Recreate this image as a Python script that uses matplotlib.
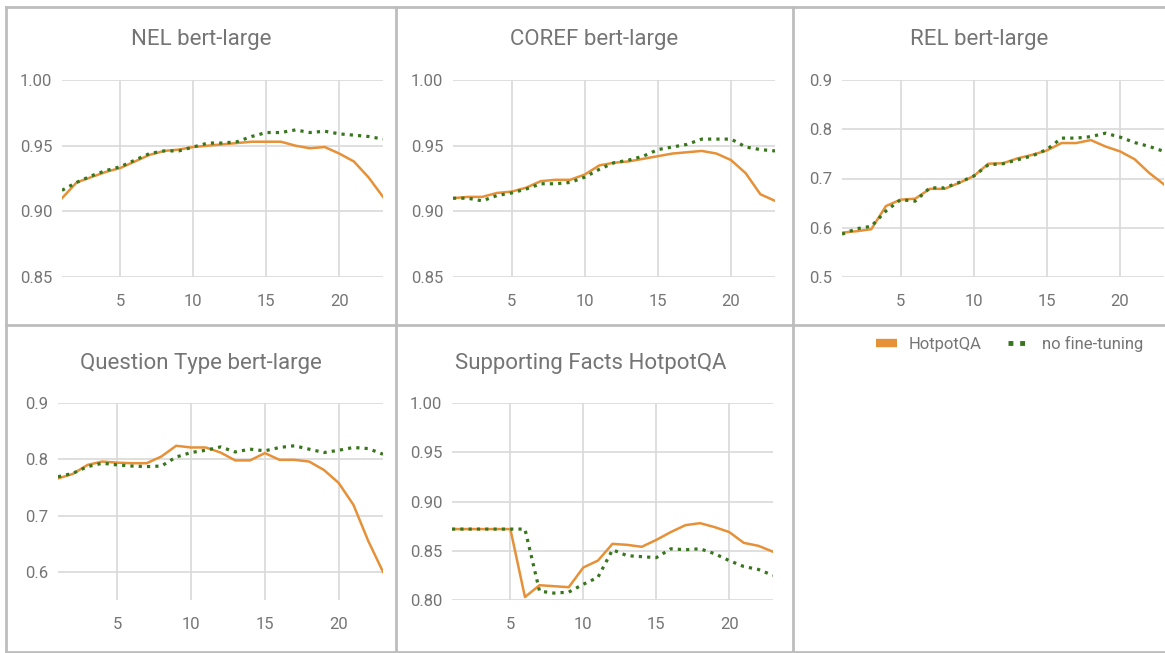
import matplotlib.pyplot as plt
from matplotlib.lines import Line2D

plt.rcParams['font.family'] = ['Roboto', 'DejaVu Sans']

layers = list(range(1, 24))

nel_hotpot = [0.910, 0.922, 0.926, 0.930, 0.933, 0.938, 0.943, 0.946, 0.947, 0.949, 0.950, 0.951,
              0.952, 0.953, 0.953, 0.953, 0.950, 0.948, 0.949, 0.944, 0.938, 0.926, 0.911]
nel_base = [0.916, 0.922, 0.927, 0.931, 0.934, 0.939, 0.944, 0.946, 0.946, 0.949, 0.952, 0.952,
            0.953, 0.957, 0.960, 0.960, 0.962, 0.960, 0.961, 0.959, 0.958, 0.957, 0.955]

coref_hotpot = [0.910, 0.911, 0.911, 0.914, 0.915, 0.918, 0.923, 0.924, 0.924, 0.928, 0.935, 0.937,
                0.938, 0.940, 0.942, 0.944, 0.945, 0.946, 0.944, 0.939, 0.929, 0.913, 0.908]
coref_base = [0.910, 0.910, 0.908, 0.912, 0.914, 0.917, 0.921, 0.921, 0.922, 0.926, 0.932, 0.937,
              0.939, 0.942, 0.947, 0.949, 0.951, 0.955, 0.955, 0.955, 0.949, 0.947, 0.946]

rel_hotpot = [0.590, 0.593, 0.597, 0.644, 0.657, 0.659, 0.679, 0.679, 0.691, 0.705, 0.730, 0.731,
              0.741, 0.748, 0.757, 0.772, 0.772, 0.778, 0.765, 0.755, 0.739, 0.711, 0.688]
rel_base = [0.587, 0.598, 0.603, 0.634, 0.657, 0.654, 0.681, 0.681, 0.692, 0.705, 0.728, 0.730,
            0.738, 0.746, 0.759, 0.782, 0.782, 0.785, 0.792, 0.784, 0.773, 0.765, 0.755]

qt_hotpot = [0.766, 0.774, 0.790, 0.796, 0.794, 0.793, 0.793, 0.805, 0.824, 0.821, 0.821, 0.812,
             0.798, 0.798, 0.811, 0.799, 0.799, 0.796, 0.781, 0.758, 0.719, 0.655, 0.600]
qt_base = [0.769, 0.775, 0.787, 0.793, 0.790, 0.788, 0.787, 0.788, 0.804, 0.812, 0.816, 0.822,
           0.813, 0.818, 0.815, 0.821, 0.824, 0.818, 0.812, 0.816, 0.821, 0.819, 0.809]

sf_hotpot = [0.872, 0.872, 0.872, 0.872, 0.872, 0.803, 0.815, 0.814, 0.813, 0.833, 0.840, 0.857,
             0.856, 0.854, 0.861, 0.869, 0.876, 0.878, 0.874, 0.869, 0.858, 0.855, 0.849]
sf_base = [0.872, 0.872, 0.872, 0.872, 0.872, 0.872, 0.809, 0.807, 0.808, 0.816, 0.823, 0.851,
           0.845, 0.844, 0.843, 0.852, 0.851, 0.852, 0.847, 0.840, 0.834, 0.831, 0.825]

titles = ["NEL bert-large", "COREF bert-large", "REL bert-large",
          "Question Type bert-large", "Supporting Facts HotpotQA"]
yticks = [[0.85, 0.90, 0.95, 1.00], [0.85, 0.90, 0.95, 1.00], [0.5, 0.6, 0.7, 0.8, 0.9],
          [0.6, 0.7, 0.8, 0.9], [0.80, 0.85, 0.90, 0.95, 1.00]]
ylims = [(0.85, 1.00), (0.85, 1.00), (0.5, 0.9), (0.55, 0.9), (0.80, 1.00)]
yfmt = ["{:.2f}", "{:.2f}", "{:.1f}", "{:.1f}", "{:.2f}"]
series = [(nel_hotpot, nel_base), (coref_hotpot, coref_base), (rel_hotpot, rel_base),
          (qt_hotpot, qt_base), (sf_hotpot, sf_base)]

ORANGE = "#e69138"
GREEN = "#38761d"
TEXT = "#757575"
GRID = "#d9d9d9"
BORDER = "#bdbdbd"

W, H = 1165, 653
fig = plt.figure(figsize=(W / 100, H / 100), dpi=100)


def box(l, t, r, b):
    return [l / W, 1 - b / H, (r - l) / W, (b - t) / H]


boxes = [box(62, 80, 383, 277), box(453, 80, 775, 277), box(842, 80, 1164, 277),
         box(58, 403, 383, 600), box(452, 403, 773, 600)]
title_pos = [(201, 40), (594, 40), (979, 40), (201, 364), (591, 364)]

for i in range(5):
    ax = fig.add_axes(boxes[i])
    hp, nb = series[i]
    ax.plot(layers, hp, color=ORANGE, lw=1.8, zorder=3, solid_joinstyle='round')
    ax.plot(layers, nb, color=GREEN, lw=2.3, linestyle=(0, (1, 1.6)),
            dash_capstyle='butt', zorder=4)
    ax.set_xlim(1, 23)
    ax.set_ylim(*ylims[i])
    ax.set_xticks([5, 10, 15, 20])
    ax.set_yticks(yticks[i])
    ax.set_yticklabels([yfmt[i].format(v) for v in yticks[i]])
    ax.grid(True, color=GRID, lw=1.2, zorder=0)
    ax.set_axisbelow(True)
    for s in ax.spines.values():
        s.set_visible(False)
    ax.tick_params(axis='both', length=0, labelsize=12, labelcolor=TEXT)
    ax.tick_params(axis='x', pad=12)
    ax.tick_params(axis='y', pad=7)
    fig.text(title_pos[i][0] / W, 1 - title_pos[i][1] / H, titles[i], fontsize=16,
             color=TEXT, ha='center', va='center')

# cell borders
def hline(y, x0, x1):
    fig.add_artist(Line2D([x0 / W, x1 / W], [1 - y / H, 1 - y / H], color=BORDER, lw=2))


def vline(x, y0, y1):
    fig.add_artist(Line2D([x / W, x / W], [1 - y0 / H, 1 - y1 / H], color=BORDER, lw=2))


hline(7, 6, 1165)
hline(325, 6, 1165)
hline(652, 6, 1165)
vline(6, 7, 652)
vline(396, 7, 652)
vline(793, 7, 652)

handles = [Line2D([], [], color=ORANGE, lw=6, solid_capstyle='butt'),
           Line2D([], [], color=GREEN, lw=3.5, linestyle=(0, (1, 1.4)), dash_capstyle='butt')]
fig.legend(handles, ["HotpotQA", "no fine-tuning"], loc='center right',
           bbox_to_anchor=(1158 / W, 1 - 344 / H), ncol=2, frameon=False, fontsize=12,
           labelcolor=TEXT, handlelength=1.3, handletextpad=0.7, columnspacing=1.6)

fig.savefig("out.png", dpi=100)
